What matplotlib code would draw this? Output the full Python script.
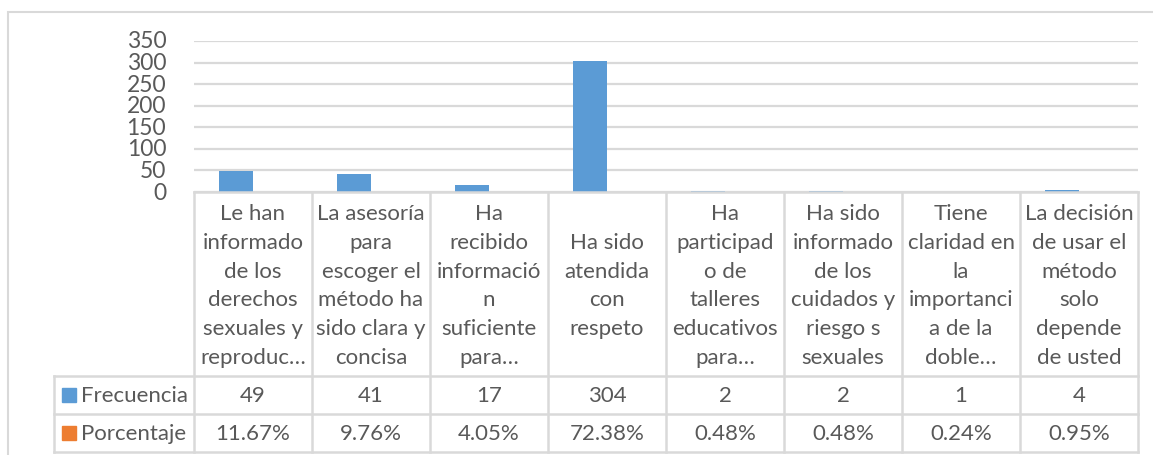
import matplotlib
matplotlib.use("Agg")
import matplotlib.pyplot as plt
import numpy as np
from matplotlib.lines import Line2D
from matplotlib.patches import Rectangle

plt.rcParams['font.family'] = ['Lato', 'DejaVu Sans']

# Datos de la tabla
categorias = [
    "Le han\ninformado\nde los\nderechos\nsexuales y\nreproduc…",
    "La asesoría\npara\nescoger el\nmétodo ha\nsido clara y\nconcisa",
    "Ha\nrecibido\ninformació\nn\nsuficiente\npara…",
    "Ha sido\natendida\ncon\nrespeto",
    "Ha\nparticipad\no de\ntalleres\neducativos\npara…",
    "Ha sido\ninformado\nde los\ncuidados y\nriesgo s\nsexuales",
    "Tiene\nclaridad en\nla\nimportanci\na de la\ndoble…",
    "La decisión\nde usar el\nmétodo\nsolo\ndepende\nde usted",
]
frecuencia = [49, 41, 17, 304, 2, 2, 1, 4]
porcentaje = [11.67, 9.76, 4.05, 72.38, 0.48, 0.48, 0.24, 0.95]
series = ["Frecuencia", "Porcentaje"]
colores = ["#5B9BD5", "#ED7D31"]
yticks = [0, 50, 100, 150, 200, 250, 300, 350]

W, H = 1153, 456
TXT = "#595959"
LINEA = "#D9D9D9"
FS = 16

fig = plt.figure(figsize=(W / 100, H / 100), dpi=100)


def fx(px):
    return px / W


def fy(py):
    return 1 - py / H


# marco exterior del gráfico
fig.add_artist(Rectangle((fx(8), fy(460)), fx(1160) - fx(8), fy(13) - fy(460),
                         transform=fig.transFigure, fill=False,
                         edgecolor=LINEA, linewidth=1.5))

ax = fig.add_axes([fx(194), fy(193), fx(1138) - fx(194), fy(42) - fy(193)])
x = np.arange(len(categorias))
ancho = 0.29
ax.bar(x - ancho / 2, frecuencia, ancho, color=colores[0], zorder=3)
ax.bar(x + ancho / 2, np.array(porcentaje) / 100, ancho, color=colores[1], zorder=3)
ax.set_xlim(-0.5, len(categorias) - 0.5)
ax.set_ylim(0, 350)
ax.set_yticks(yticks)
ax.set_yticklabels([str(t) for t in yticks], fontsize=16.5, color=TXT)
ax.tick_params(axis='y', length=0, pad=20)
ax.set_xticks([])
for s in ax.spines.values():
    s.set_visible(False)
ax.grid(axis='y', color=LINEA, linewidth=1.6, zorder=0)
for lbl in ax.get_yticklabels():
    lbl.set_verticalalignment('center')

# tabla de datos bajo el eje
fig.canvas.draw()
bordes = [ax.transData.transform((i - 0.5, 0))[0] for i in range(len(categorias) + 1)]
filas = [193, 377, 415, 453]
izq = 54
lw = 1.8

for b in bordes:
    fig.add_artist(Line2D([fx(b), fx(b)], [fy(filas[0]), fy(filas[-1])],
                          transform=fig.transFigure, color=LINEA, linewidth=lw))
fig.add_artist(Line2D([fx(izq), fx(izq)], [fy(filas[1]), fy(filas[-1])],
                      transform=fig.transFigure, color=LINEA, linewidth=lw))
for i, r in enumerate(filas):
    x0 = bordes[0] if i == 0 else izq
    fig.add_artist(Line2D([fx(x0), fx(bordes[-1])], [fy(r), fy(r)],
                          transform=fig.transFigure, color=LINEA, linewidth=lw))

for i, cat in enumerate(categorias):
    cx = (bordes[i] + bordes[i + 1]) / 2
    fig.text(fx(cx), fy((filas[0] + filas[1]) / 2 + 1), cat, ha='center', va='center',
             fontsize=FS, color=TXT, linespacing=1.55)
    fig.text(fx(cx), fy((filas[1] + filas[2]) / 2), str(frecuencia[i]),
             ha='center', va='center', fontsize=FS, color=TXT)
    fig.text(fx(cx), fy((filas[2] + filas[3]) / 2), f"{porcentaje[i]:.2f}%",
             ha='center', va='center', fontsize=FS, color=TXT)

# encabezados de fila con su clave de color
for k, nombre in enumerate(series):
    cy = (filas[k + 1] + filas[k + 2]) / 2
    fig.add_artist(Rectangle((fx(62), fy(cy + 7)), fx(76) - fx(62), fy(cy - 7) - fy(cy + 7),
                             transform=fig.transFigure, color=colores[k]))
    fig.text(fx(81), fy(cy), nombre, ha='left', va='center', fontsize=FS, color=TXT)

fig.savefig("out.png", dpi=100)
